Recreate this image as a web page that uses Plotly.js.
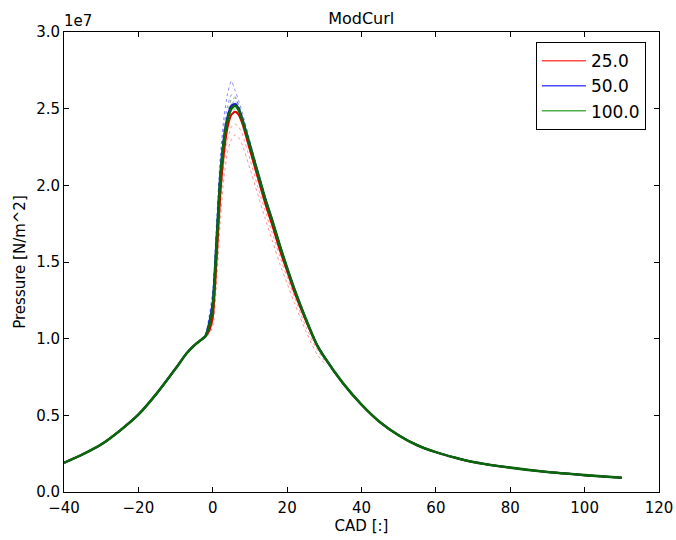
<!DOCTYPE html>
<html>
<head>
<meta charset="utf-8">
<script src="https://cdn.plot.ly/plotly-3.0.1.min.js"></script>
<style>html,body{margin:0;padding:0;background:#fff;}#chart{width:676px;height:540px;}</style>
</head>
<body>
<div id="chart"></div>
<script>
// Crank angle (deg) for mean curves
const cadMean = [-40,-35,-30,-25,-20,-15,-10,-7,-5,-3,-2,-1,0,1,2,3,4,5,6,7,8,10,12,14,16,18,20,22,25,28,30,35,40,45,50,55,60,65,70,80,90,100,110];
// Mean pressure, units of 1e7 N/m^2
const mean25  = [0.19,0.245,0.31,0.40,0.505,0.645,0.805,0.905,0.955,0.995,1.015,1.05,1.14,1.50,1.93,2.21,2.38,2.46,2.48,2.46,2.40,2.23,2.06,1.89,1.74,1.58,1.44,1.30,1.12,0.96,0.88,0.71,0.57,0.455,0.37,0.305,0.26,0.225,0.196,0.159,0.130,0.11,0.093];
const mean50  = [0.19,0.245,0.31,0.40,0.505,0.645,0.805,0.905,0.955,0.995,1.015,1.10,1.24,1.64,2.06,2.31,2.45,2.52,2.53,2.50,2.43,2.26,2.09,1.92,1.77,1.61,1.46,1.32,1.13,0.96,0.88,0.71,0.57,0.455,0.37,0.305,0.26,0.225,0.196,0.159,0.130,0.11,0.093];
const mean100 = [0.19,0.245,0.31,0.40,0.505,0.645,0.805,0.905,0.955,0.995,1.015,1.08,1.20,1.60,2.03,2.29,2.43,2.50,2.52,2.49,2.42,2.26,2.09,1.92,1.77,1.61,1.46,1.32,1.13,0.96,0.88,0.71,0.57,0.455,0.37,0.305,0.26,0.225,0.196,0.159,0.130,0.11,0.093];

// Individual cycles around combustion (dotted)
const cadCycle = [-3,-2,-1,0,1,2,3,4,5,6,7,8,10,12,14,16,18,20,22,25,28,30];
const cyc25a = [0.995,1.01,1.03,1.08,1.35,1.75,2.05,2.22,2.30,2.33,2.31,2.26,2.11,1.95,1.79,1.64,1.49,1.36,1.23,1.05,0.90,0.84];
const cyc25b = [0.995,1.015,1.04,1.12,1.45,1.85,2.14,2.30,2.38,2.40,2.38,2.33,2.17,2.00,1.84,1.69,1.54,1.40,1.27,1.08,0.93,0.86];
const cyc25c = [0.995,1.015,1.06,1.18,1.55,1.96,2.24,2.39,2.46,2.48,2.45,2.39,2.22,2.05,1.88,1.73,1.57,1.43,1.29,1.11,0.95,0.87];
const cyc50a = [0.995,1.02,1.14,1.32,1.75,2.18,2.44,2.60,2.68,2.62,2.55,2.47,2.29,2.11,1.94,1.78,1.62,1.47,1.33,1.14,0.97,0.89];
const cyc50b = [0.995,1.02,1.12,1.28,1.70,2.12,2.38,2.52,2.59,2.58,2.52,2.45,2.28,2.10,1.93,1.77,1.61,1.46,1.32,1.13,0.96,0.88];
const cyc50c = [0.995,1.015,1.10,1.24,1.65,2.07,2.32,2.46,2.53,2.55,2.50,2.43,2.27,2.10,1.93,1.77,1.61,1.46,1.32,1.13,0.96,0.88];
const cyc100a = [0.995,1.015,1.10,1.24,1.66,2.08,2.33,2.47,2.56,2.57,2.52,2.44,2.27,2.10,1.93,1.77,1.61,1.46,1.32,1.13,0.96,0.88];
const cyc100b = [0.995,1.015,1.07,1.17,1.56,1.98,2.25,2.40,2.47,2.50,2.47,2.41,2.25,2.08,1.91,1.76,1.60,1.45,1.31,1.12,0.95,0.87];

const seriesNames = ['25.0','50.0','100.0'];
const tickVals = [0,0.5,1.0,1.5,2.0,2.5,3.0];
const tickText = ['0.0','0.5','1.0','1.5','2.0','2.5','3.0'];

const cycleSets = [[cyc25a,cyc25b,cyc25c],[cyc50a,cyc50b,cyc50c],[cyc100a,cyc100b]];
const means = [mean25, mean50, mean100];
const dotColors = ['rgba(255,60,60,0.55)','rgba(40,40,255,0.55)','rgba(0,128,0,0.55)'];
const meanColors = ['#e00000','#1010d0','#0a680a'];
const meanWidths = [2, 2, 2.6];
const legendColors = ['#ff4a4a','#4a4aff','#4caf4c'];

const traces = [];
cycleSets.forEach((set, i) => {
  set.forEach(c => traces.push({x: cadCycle, y: c, mode: 'lines', showlegend: false, hoverinfo: 'skip',
    line: {color: dotColors[i], width: 1, dash: 'dot', shape: 'spline', smoothing: 0.6}}));
});
means.forEach((m, i) => traces.push({x: cadMean, y: m, mode: 'lines', showlegend: false,
  line: {color: meanColors[i], width: meanWidths[i], shape: 'spline', smoothing: 0.6}}));
seriesNames.forEach((n, i) => traces.push({x: [null], y: [null], mode: 'lines', name: n,
  line: {color: legendColors[i], width: 1.5}}));

const font = {family: 'DejaVu Sans, sans-serif', color: '#000'};
const layout = {
  width: 676, height: 540,
  margin: {l: 64, r: 17, t: 32, b: 48},
  paper_bgcolor: '#fff', plot_bgcolor: '#fff',
  font: Object.assign({size: 15}, font),
  title: {text: 'ModCurl', font: Object.assign({size: 16}, font), x: 0.5343, xanchor: 'center', y: 0.966, yanchor: 'middle'},
  xaxis: {range: [-40, 120], dtick: 20, tick0: 0, showgrid: false, zeroline: false,
    showline: true, linecolor: '#000', linewidth: 1, mirror: 'ticks', ticks: 'inside', ticklen: 5, tickcolor: '#000',
    tickfont: Object.assign({size: 15}, font), ticklabelstandoff: 2,
    title: {text: 'CAD [:]', font: Object.assign({size: 15}, font), standoff: 2}},
  yaxis: {range: [0, 3.0], tickvals: tickVals, ticktext: tickText, showgrid: false, zeroline: false,
    showline: true, linecolor: '#000', linewidth: 1, mirror: 'ticks', ticks: 'inside', ticklen: 5, tickcolor: '#000',
    tickfont: Object.assign({size: 15}, font),
    title: {text: 'Pressure [N/m^2]', font: Object.assign({size: 15}, font), standoff: 6}},
  legend: {x: 0.978, xanchor: 'right', y: 0.978, yanchor: 'top', bgcolor: '#fff', bordercolor: '#000', borderwidth: 1,
    itemwidth: 44, font: Object.assign({size: 17}, font)},
  annotations: [{text: '1e7', xref: 'paper', yref: 'paper', x: 0, y: 1, xanchor: 'left', yanchor: 'bottom', showarrow: false,
    font: Object.assign({size: 15}, font), xshift: -2, yshift: 0}]
};
Plotly.newPlot('chart', traces, layout, {displayModeBar: false, staticPlot: true});
</script>
</body>
</html>
